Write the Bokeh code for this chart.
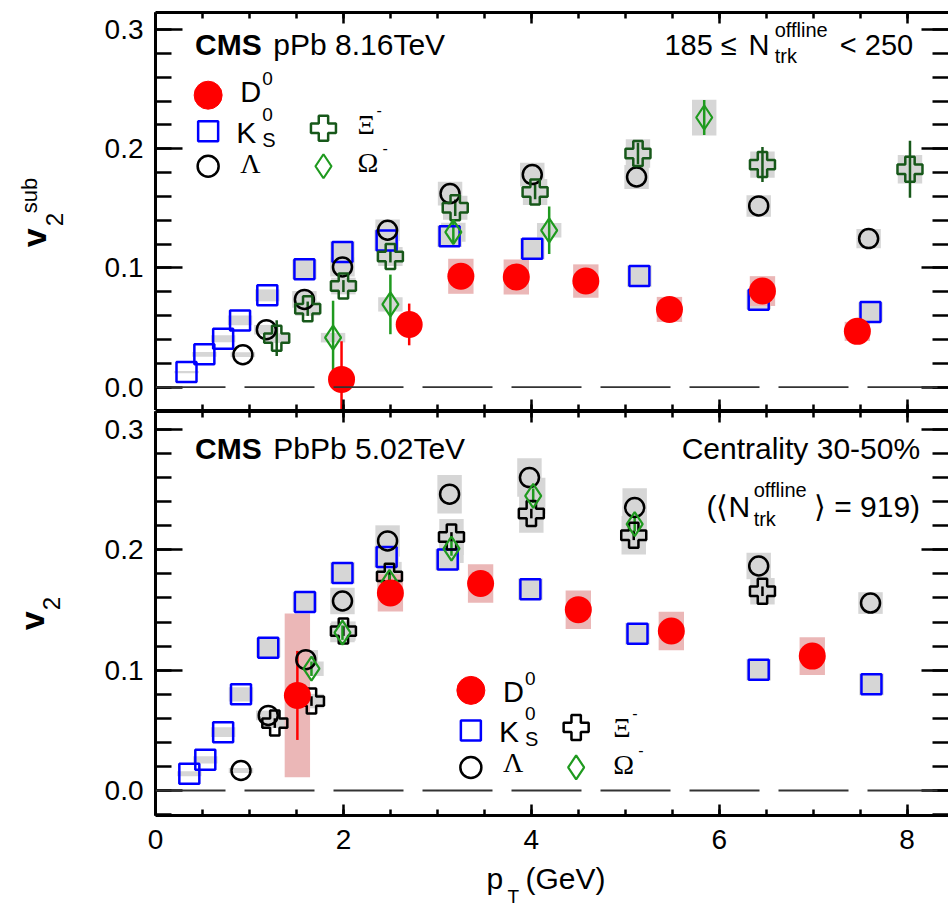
import math
from bokeh.plotting import figure
from bokeh.models import (LinearAxis, SingleIntervalTicker, Span, Label, Range1d,
                          CustomJSTickFormatter, PrintfTickFormatter, BasicTickFormatter)
from bokeh.layouts import column, row
from bokeh.embed import file_html
from bokeh.resources import INLINE

# ---------------- data : pPb 8.16 TeV, 185 <= N_trk^offline < 250 ----------------
pPb_D0_pt   = [1.98, 2.70, 3.25, 3.84, 4.58, 5.47, 6.46, 7.47]
pPb_D0_v2   = [0.0065, 0.0526, 0.093, 0.0924, 0.089, 0.0652, 0.0806, 0.0468]
pPb_D0_err  = [0.032, 0.0175, 0.009, 0.006, 0.005, 0.005, 0.006, 0.004]
pPb_D0_sys  = [0.004, 0.004, 0.0147, 0.0147, 0.014, 0.0105, 0.0125, 0.008]

pPb_KS_pt   = [0.33, 0.52, 0.72, 0.90, 1.19, 1.585, 1.99, 2.46, 3.13, 4.01, 5.15, 6.42, 7.61]
pPb_KS_v2   = [0.0126, 0.0275, 0.0406, 0.056, 0.077, 0.0988, 0.1134, 0.1230, 0.1265, 0.1162, 0.0932, 0.0734, 0.063]
pPb_KS_sys  = [0.001, 0.002, 0.003, 0.004, 0.005, 0.008, 0.009, 0.009, 0.009, 0.009, 0.009, 0.008, 0.008]

pPb_L_pt    = [0.93, 1.18, 1.585, 1.99, 2.47, 3.135, 4.01, 5.12, 6.42, 7.59]
pPb_L_v2    = [0.0272, 0.0482, 0.0736, 0.1008, 0.1316, 0.1624, 0.1783, 0.1763, 0.152, 0.1246]
pPb_L_sys   = [0.002, 0.004, 0.007, 0.008, 0.009, 0.010, 0.010, 0.010, 0.009, 0.008]

pPb_Xi_pt   = [1.29, 1.62, 2.00, 2.50, 3.19, 4.04, 5.135, 6.46, 8.03]
pPb_Xi_v2   = [0.0411, 0.0658, 0.0848, 0.1096, 0.1505, 0.1637, 0.196, 0.1867, 0.1828]
pPb_Xi_err  = [0.015, 0.006, 0.005, 0.005, 0.007, 0.006, 0.009, 0.0147, 0.024]
pPb_Xi_sys  = [0.004, 0.006, 0.007, 0.008, 0.010, 0.011, 0.012, 0.011, 0.012]

pPb_Om_pt   = [1.89, 2.50, 3.17, 4.19, 5.84]
pPb_Om_v2   = [0.0415, 0.0694, 0.1300, 0.1316, 0.2262]
pPb_Om_err  = [0.031, 0.025, 0.010, 0.020, 0.0147]
pPb_Om_sys  = [0.004, 0.006, 0.008, 0.006, 0.015]

# ---------------- data : PbPb 5.02 TeV, centrality 30-50% ----------------
PbPb_D0_pt  = [1.51, 2.50, 3.46, 4.50, 5.49, 6.99]
PbPb_D0_v2  = [0.079, 0.1642, 0.172, 0.1503, 0.1325, 0.1117]
PbPb_D0_err = [0.037, 0.004, 0.004, 0.004, 0.004, 0.004]
PbPb_D0_sys = [0.068, 0.0155, 0.016, 0.016, 0.016, 0.0157]

PbPb_KS_pt  = [0.36, 0.53, 0.72, 0.91, 1.20, 1.59, 1.99, 2.46, 3.11, 3.99, 5.13, 6.42, 7.62]
PbPb_KS_v2  = [0.0139, 0.0255, 0.0485, 0.0799, 0.1187, 0.1567, 0.1808, 0.1941, 0.1919, 0.1672, 0.1303, 0.1004, 0.0882]
PbPb_KS_sys = [0.002, 0.003, 0.004, 0.006, 0.008, 0.008, 0.009, 0.009, 0.009, 0.009, 0.009, 0.009, 0.009]

PbPb_L_pt   = [0.91, 1.20, 1.60, 1.99, 2.47, 3.13, 3.98, 5.10, 6.42, 7.61]
PbPb_L_v2   = [0.0166, 0.0624, 0.1087, 0.1575, 0.2074, 0.2463, 0.2601, 0.2352, 0.1866, 0.1558]
PbPb_L_sys  = [0.002, 0.004, 0.008, 0.011, 0.013, 0.016, 0.016, 0.016, 0.011, 0.009]

PbPb_Xi_pt  = [1.27, 1.66, 2.00, 2.49, 3.15, 4.00, 5.09, 6.46]
PbPb_Xi_v2  = [0.056, 0.0743, 0.1325, 0.178, 0.2107, 0.2302, 0.2121, 0.1656]
PbPb_Xi_err = [0.004, 0.004, 0.004, 0.004, 0.004, 0.004, 0.004, 0.004]
PbPb_Xi_sys = [0.004, 0.006, 0.008, 0.012, 0.015, 0.016, 0.016, 0.011]

PbPb_Om_pt  = [1.66, 1.99, 2.49, 3.15, 4.02, 5.10]
PbPb_Om_v2  = [0.1012, 0.1312, 0.1734, 0.2011, 0.2449, 0.2213]
PbPb_Om_err = [0.006, 0.006, 0.006, 0.006, 0.006, 0.006]
PbPb_Om_sys = [0.006, 0.008, 0.010, 0.012, 0.015, 0.015]

x_major_step = 2
y_major_step = 0.1

# ---------------- styles ----------------
RED, PINK = "#ff0000", "#ebb7b7"
BLUE, BLACK, GRAY = "#0000ff", "#000000", "#d6d6d6"
DKGREEN, GREEN = "#17581a", "#1f9a1f"
SANS, SERIF = "Liberation Sans", "Liberation Serif"
MID = 0.35   # distance (in em) from the alphabetic baseline up to the text middle

LEFT_W = 100    # strips carrying the y titles
XT_H = 48       # strip carrying the x title
TOP_H = 410
BOT_H = 909 - TOP_H - XT_H
TOP_YR = (-0.0196, 0.3143)
BOT_YR = (-0.0208, 0.315)

# page-pixel -> data helpers (used only for placing texts and legend keys)
X0PX, XPX = 155.5, 93.7
YMAP = {"top": (386.7, 1191.0), "bot": (790.0, 1202.0)}
def dx(px):
    return (px - X0PX) / XPX
def dy(panel, py):
    if panel == "page":
        return py
    y0, s = YMAP[panel]
    return (y0 - py) / s


def base_fig(width, height, xr, yr, **kw):
    p = figure(width=width, height=height, x_range=Range1d(*xr), y_range=Range1d(*yr),
               output_backend="svg", toolbar_location=None, title=None,
               x_axis_location=None, y_axis_location=None, **kw)
    p.grid.visible = False
    p.outline_line_color = None
    p.background_fill_color = "white"
    p.border_fill_color = "white"
    return p


def make_panel(height, yr, b_top, b_bottom, x_labels):
    p = base_fig(948 - LEFT_W, height, (0, 8.44), yr,
                 min_border_left=155 - LEFT_W, min_border_right=0,
                 min_border_top=b_top, min_border_bottom=b_bottom)
    xt = SingleIntervalTicker(interval=x_major_step, num_minor_ticks=4)
    yt = SingleIntervalTicker(interval=y_major_step, num_minor_ticks=5)
    common = dict(axis_line_width=3, axis_line_color="black",
                  major_tick_line_width=2.5, minor_tick_line_width=2.5,
                  major_tick_out=0, minor_tick_out=0,
                  major_label_text_font=SANS, major_label_text_font_size="28px",
                  major_label_text_color="black")
    for side in ("below", "above"):
        show = x_labels and side == "below"
        ax = LinearAxis(ticker=xt, major_tick_in=11, minor_tick_in=6,
                        formatter=BasicTickFormatter() if show else CustomJSTickFormatter(code="return ''"),
                        major_label_standoff=14 if show else 0, **common)
        p.add_layout(ax, side)
    for side in ("left", "right"):
        show = side == "left"
        ay = LinearAxis(ticker=yt, major_tick_in=27, minor_tick_in=16,
                        formatter=PrintfTickFormatter(format="%.1f") if show else CustomJSTickFormatter(code="return ''"),
                        major_label_standoff=12 if show else 0, **common)
        if not show:
            ay.axis_line_color = None
        p.add_layout(ay, side)
    p.add_layout(Span(location=0, dimension="width", line_color="#333333",
                      line_width=1.8, line_dash="70 19"))
    return p


def txt(p, panel, px, py, text, size, font=SANS, style="normal", align="left",
        vertical=False, page_x=False):
    """px, py : page position of the alphabetic baseline start of the text."""
    if vertical:
        px = px - MID * size
    else:
        py = py - MID * size
    x = px if page_x else dx(px)
    p.add_layout(Label(x=x, y=dy(panel, py), text=text, text_font=font,
                       text_font_size=f"{size}px", text_font_style=style,
                       text_align=align, text_baseline="middle",
                       angle=math.pi / 2 if vertical else 0.0, angle_units="rad",
                       text_color="black"))


def boxes(p, pt, v2, sys, color, hw=0.13):
    p.rect(x=pt, y=v2, width=2 * hw, height=[2 * s for s in sys],
           fill_color=color, line_color=None)


def bars(p, pt, v2, err, color):
    p.segment(x0=pt, y0=[v - e for v, e in zip(v2, err)], x1=pt,
              y1=[v + e for v, e in zip(v2, err)], line_color=color, line_width=2.5)


def draw(p, d, xi_color):
    boxes(p, d["KS"][0], d["KS"][1], d["KS"][2], GRAY)
    boxes(p, d["L"][0], d["L"][1], d["L"][2], GRAY)
    boxes(p, d["Xi"][0], d["Xi"][1], d["Xi"][3], GRAY)
    boxes(p, d["Om"][0], d["Om"][1], d["Om"][3], GRAY)
    boxes(p, d["D0"][0], d["D0"][1], d["D0"][3], PINK, hw=0.135)
    bars(p, d["Xi"][0], d["Xi"][1], d["Xi"][2], xi_color)
    bars(p, d["Om"][0], d["Om"][1], d["Om"][2], GREEN)
    bars(p, d["D0"][0], d["D0"][1], d["D0"][2], RED)
    p.scatter(d["KS"][0], d["KS"][1], marker="square", size=20, fill_color=None,
              line_color=BLUE, line_width=2.5)
    p.scatter(d["L"][0], d["L"][1], marker="circle", size=19, fill_color=None,
              line_color=BLACK, line_width=2.5)
    p.scatter(d["Xi"][0], d["Xi"][1], marker="plus", size=25, fill_color=None,
              line_color=xi_color, line_width=2.5)
    p.scatter(d["Om"][0], d["Om"][1], marker="diamond", size=24, fill_color=None,
              line_color=GREEN, line_width=2.2)
    p.scatter(d["D0"][0], d["D0"][1], marker="circle", size=27, fill_color=RED,
              line_color=RED, line_width=0)


def legend(p, panel, cx1, cx2, rows_y, tx1, tx2, base_y, xi_color):
    r1, r2, r3 = rows_y
    p.scatter([dx(cx1)], [dy(panel, r1)], marker="circle", size=28, fill_color=RED, line_color=RED)
    p.scatter([dx(cx1)], [dy(panel, r2)], marker="square", size=20, fill_color=None,
              line_color=BLUE, line_width=2.5)
    p.scatter([dx(cx1)], [dy(panel, r3)], marker="circle", size=21, fill_color=None,
              line_color=BLACK, line_width=2.5)
    p.scatter([dx(cx2)], [dy(panel, r2 - 3)], marker="plus", size=25, fill_color=None,
              line_color=xi_color, line_width=2.5)
    p.scatter([dx(cx2)], [dy(panel, r3)], marker="diamond", size=24, fill_color=None,
              line_color=GREEN, line_width=2.2)
    b1, b2, b3, bxi, bom = base_y
    txt(p, panel, tx1, b1, "D", 29)
    txt(p, panel, tx1 + 22, b1 - 17, "0", 19)
    txt(p, panel, tx1 - 4, b2, "K", 30)
    txt(p, panel, tx1 + 22, b2 - 22, "0", 19)
    txt(p, panel, tx1 + 22, b2 + 4, "S", 20)
    txt(p, panel, tx1, b3, "Λ", 28, font=SERIF)
    txt(p, panel, tx2, bxi, "Ξ", 27, font=SERIF)
    txt(p, panel, tx2 + 19, bxi - 19, "-", 16)
    txt(p, panel, tx2, bom, "Ω", 28, font=SERIF)
    txt(p, panel, tx2 + 25, bom - 19, "-", 16)


# ---------------- top panel ----------------
top = make_panel(TOP_H, TOP_YR, 12, 0, False)
draw(top, {
    "D0": (pPb_D0_pt, pPb_D0_v2, pPb_D0_err, pPb_D0_sys),
    "KS": (pPb_KS_pt, pPb_KS_v2, pPb_KS_sys),
    "L": (pPb_L_pt, pPb_L_v2, pPb_L_sys),
    "Xi": (pPb_Xi_pt, pPb_Xi_v2, pPb_Xi_err, pPb_Xi_sys),
    "Om": (pPb_Om_pt, pPb_Om_v2, pPb_Om_err, pPb_Om_sys),
}, DKGREEN)
txt(top, "top", 195, 55, "CMS", 30, style="bold")
txt(top, "top", 273, 55, "pPb 8.16TeV", 30)
txt(top, "top", 663, 55, "185 ≤", 29)
txt(top, "top", 747, 55, "N", 29)
txt(top, "top", 773, 37, "offline", 20)
txt(top, "top", 773, 63, "trk", 20)
txt(top, "top", 838, 55, "< 250", 29)
legend(top, "top", 208, 323, (95, 131, 166), 240, 357, (102, 143, 173, 134, 172), DKGREEN)

# ---------------- bottom panel ----------------
bot = make_panel(BOT_H, BOT_YR, 1, BOT_H - 1 - 404, True)
draw(bot, {
    "D0": (PbPb_D0_pt, PbPb_D0_v2, PbPb_D0_err, PbPb_D0_sys),
    "KS": (PbPb_KS_pt, PbPb_KS_v2, PbPb_KS_sys),
    "L": (PbPb_L_pt, PbPb_L_v2, PbPb_L_sys),
    "Xi": (PbPb_Xi_pt, PbPb_Xi_v2, PbPb_Xi_err, PbPb_Xi_sys),
    "Om": (PbPb_Om_pt, PbPb_Om_v2, PbPb_Om_err, PbPb_Om_sys),
}, BLACK)
txt(bot, "bot", 195, 459, "CMS", 30, style="bold")
txt(bot, "bot", 273, 459, "PbPb 5.02TeV", 30)
txt(bot, "bot", 918, 459, "Centrality 30-50%", 30, align="right")
txt(bot, "bot", 705, 517, "(⟨N", 30)
txt(bot, "bot", 752, 497, "offline", 20)
txt(bot, "bot", 752, 526, "trk", 20)
txt(bot, "bot", 918, 517, "⟩ = 919)", 30, align="right")
legend(bot, "bot", 470, 575, (690, 730, 767), 502, 612, (702, 742, 772, 737, 774), BLACK)

# ---------------- y title strips (same frame rows as the panels) ----------------
ytop = base_fig(LEFT_W, TOP_H, (0, LEFT_W), TOP_YR, min_border_left=0, min_border_right=0,
                min_border_top=12, min_border_bottom=0)
txt(ytop, "top", 45, 247, "v", 34, style="bold", vertical=True, page_x=True)
txt(ytop, "top", 62, 226, "2", 24, vertical=True, page_x=True)
txt(ytop, "top", 37, 213, "sub", 22, vertical=True, page_x=True)

ybot = base_fig(LEFT_W, BOT_H, (0, LEFT_W), BOT_YR, min_border_left=0, min_border_right=0,
                min_border_top=1, min_border_bottom=BOT_H - 1 - 404)
txt(ybot, "bot", 43, 630, "v", 34, style="bold", vertical=True, page_x=True)
txt(ybot, "bot", 59, 610, "2", 24, vertical=True, page_x=True)

# ---------------- x title strip (page pixel coordinates) ----------------
xtitle = base_fig(948, XT_H, (0, 948), (909, 909 - XT_H),
                  min_border_left=0, min_border_right=0, min_border_top=0, min_border_bottom=0)
txt(xtitle, "page", 486, 888, "p", 30, page_x=True)
txt(xtitle, "page", 507, 903, "T", 19, page_x=True)
txt(xtitle, "page", 525, 888, "(GeV)", 30, page_x=True)

layout = column(row(ytop, top, spacing=0), row(ybot, bot, spacing=0), xtitle, spacing=0)
open("out.html", "w").write(file_html(layout, INLINE))
